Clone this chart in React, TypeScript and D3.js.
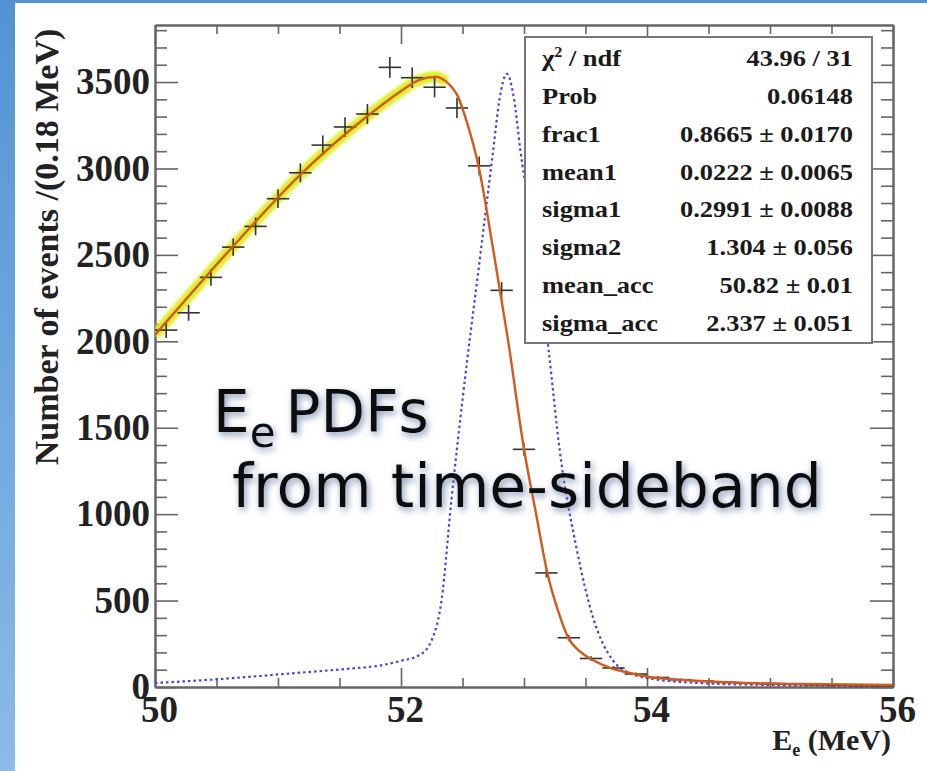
import React, { useEffect, useRef } from 'react';
import * as d3 from 'd3';

// histogram: 33 bins over 50-56 MeV, centres and counts
const binCenters: number[] = [
  50.091, 50.273, 50.455, 50.636, 50.818, 51.0, 51.182, 51.364, 51.545, 51.727, 51.909,
  52.091, 52.273, 52.455, 52.636, 52.818, 53.0, 53.182, 53.364, 53.545, 53.727, 53.909,
  54.091, 54.273, 54.455, 54.636, 54.818, 55.0, 55.182, 55.364, 55.545, 55.727, 55.909,
];
const counts: number[] = [
  2065, 2165, 2370, 2545, 2665, 2825, 2975, 3135, 3240, 3315, 3585,
  3525, 3470, 3350, 3015, 2295, 1375, 660, 285, 165, 110, 75,
  55, 42, 34, 27, 22, 18, 15, 12, 10, 8, 7,
];
const binHalf = 0.0909;

// fitted total pdf (orange line)
const fitE: number[] = [
  50.0, 50.63, 51.18, 51.72, 51.99, 52.15, 52.28, 52.37, 52.46, 52.54, 52.63,
  52.75, 52.87, 53.0, 53.1, 53.19, 53.28, 53.36, 53.46, 53.56, 53.7, 53.86,
  54.02, 54.43, 55.24, 56.0,
];
const fitN: number[] = [
  2037, 2546, 2963, 3299, 3443, 3513, 3530, 3501, 3420, 3258, 3015,
  2529, 2008, 1377, 995, 660, 434, 284, 203, 156, 110, 81,
  58, 35, 17, 12,
];

// signal pdf (blue dotted)
const sigE: number[] = [
  50.0, 50.53, 51.04, 51.54, 51.85, 51.99, 52.15, 52.25, 52.33, 52.41, 52.5,
  52.65, 52.75, 52.8, 52.86, 52.92, 52.97, 53.1, 53.2, 53.29, 53.43, 53.56,
  53.72, 53.86, 54.1, 54.43, 55.0, 56.0,
];
const sigN: number[] = [
  23, 46, 75, 104, 127, 150, 185, 272, 503, 1082, 1661,
  2529, 3108, 3397, 3547, 3397, 3108, 2529, 1950, 1371, 793, 405,
  156, 81, 41, 23, 12, 6,
];

const xMajor: number[] = [50, 52, 54, 56];
const xMinor: number[] = [50.5, 51, 51.5, 52.5, 53, 53.5, 54.5, 55, 55.5];
const yMajor: number[] = [0, 500, 1000, 1500, 2000, 2500, 3000, 3500];
const yMinor: number[] = [
  100, 200, 300, 400, 600, 700, 800, 900, 1100, 1200, 1300, 1400, 1600, 1700, 1800, 1900,
  2100, 2200, 2300, 2400, 2600, 2700, 2800, 2900, 3100, 3200, 3300, 3400, 3600, 3700, 3800,
];

const statLabels: string[] = ['ndf', 'Prob', 'frac1', 'mean1', 'sigma1', 'sigma2', 'mean_acc', 'sigma_acc'];
const statValues: string[] = [
  '43.96 / 31', '0.06148', '0.8665 ± 0.0170', '0.0222 ± 0.0065',
  '0.2991 ± 0.0088', '1.304 ± 0.056', '50.82 ± 0.01', '2.337 ± 0.051',
];

const App = () => {
  const ref = useRef<SVGSVGElement | null>(null);

  useEffect(() => {
    drawChart();
    return () => {
      if (ref.current) d3.select(ref.current).selectAll('*').remove();
    };
  }, []);

  const drawChart = () => {
    const W = 927;
    const H = 771;
    const frame = { left: 155, right: 893, top: 25, bottom: 687 };
    const serif = '"Liberation Serif", "Times New Roman", serif';

    const svg = d3.select(ref.current);

    const defs = svg.append('defs');
    const grad = defs.append('linearGradient').attr('id', 'bg').attr('x1', 0).attr('y1', 0).attr('x2', 0).attr('y2', 1);
    grad.append('stop').attr('offset', '0%').attr('stop-color', '#5393d3');
    grad.append('stop').attr('offset', '100%').attr('stop-color', '#8bbbe8');

    defs.append('clipPath').attr('id', 'plotclip')
      .append('rect')
      .attr('x', frame.left).attr('y', frame.top)
      .attr('width', frame.right - frame.left).attr('height', frame.bottom - frame.top);

    // soft glow behind the big overlay text
    const glow = defs.append('filter').attr('id', 'glow').attr('x', '-10%').attr('y', '-30%').attr('width', '120%').attr('height', '160%');
    glow.append('feGaussianBlur').attr('in', 'SourceAlpha').attr('stdDeviation', 3.5).attr('result', 'blur');
    glow.append('feOffset').attr('in', 'blur').attr('dx', 2).attr('dy', 3).attr('result', 'off');
    glow.append('feFlood').attr('flood-color', '#6f86a6').attr('flood-opacity', 0.9);
    glow.append('feComposite').attr('in2', 'off').attr('operator', 'in').attr('result', 'shadow');
    const merge = glow.append('feMerge');
    merge.append('feMergeNode').attr('in', 'shadow');
    merge.append('feMergeNode').attr('in', 'SourceGraphic');

    const soft = defs.append('filter').attr('id', 'soft');
    soft.append('feGaussianBlur').attr('stdDeviation', 1.4);

    // slide background
    svg.append('rect').attr('width', W).attr('height', H).attr('fill', 'url(#bg)');
    svg.append('rect').attr('x', 15).attr('y', 3).attr('width', W - 15).attr('height', H - 3).attr('fill', '#ffffff');

    const x = d3.scaleLinear().domain([50, 56]).range([frame.left, frame.right]);
    const y = d3.scaleLinear().domain([0, 3830]).range([frame.bottom, frame.top]);

    // axes
    const axisColor = '#666';
    const styleAxis = (g: d3.Selection<SVGGElement, unknown, null, undefined>) => {
      g.selectAll('.domain').attr('stroke', axisColor).attr('stroke-width', 2);
      g.selectAll('.tick line').attr('stroke', axisColor).attr('stroke-width', 1.6);
      g.selectAll('.tick text')
        .attr('fill', '#222')
        .attr('font-family', serif)
        .attr('font-weight', 'bold')
        .attr('font-size', 37);
    };

    const bottomMinor = svg.append('g').attr('transform', `translate(0,${frame.bottom})`)
      .call(d3.axisBottom(x).tickValues(xMinor).tickSize(-9).tickSizeOuter(0).tickFormat(() => ''));
    styleAxis(bottomMinor);
    const bottom = svg.append('g').attr('transform', `translate(0,${frame.bottom})`)
      .call(d3.axisBottom(x).tickValues(xMajor).tickSize(-19).tickSizeOuter(0).tickPadding(9).tickFormat(d3.format('d')));
    styleAxis(bottom);
    bottom.selectAll('.tick text').attr('dx', 4);

    const topMinor = svg.append('g').attr('transform', `translate(0,${frame.top})`)
      .call(d3.axisTop(x).tickValues(xMinor).tickSize(-9).tickSizeOuter(0).tickFormat(() => ''));
    styleAxis(topMinor);
    const topMajor = svg.append('g').attr('transform', `translate(0,${frame.top})`)
      .call(d3.axisTop(x).tickValues(xMajor).tickSize(-19).tickSizeOuter(0).tickFormat(() => ''));
    styleAxis(topMajor);

    const leftMinor = svg.append('g').attr('transform', `translate(${frame.left},0)`)
      .call(d3.axisLeft(y).tickValues(yMinor).tickSize(-12).tickSizeOuter(0).tickFormat(() => ''));
    styleAxis(leftMinor);
    const left = svg.append('g').attr('transform', `translate(${frame.left},0)`)
      .call(d3.axisLeft(y).tickValues(yMajor).tickSize(-23).tickSizeOuter(0).tickPadding(5).tickFormat(d3.format('d')));
    styleAxis(left);

    const rightMinor = svg.append('g').attr('transform', `translate(${frame.right},0)`)
      .call(d3.axisRight(y).tickValues(yMinor).tickSize(-12).tickSizeOuter(0).tickFormat(() => ''));
    styleAxis(rightMinor);
    const rightMajor = svg.append('g').attr('transform', `translate(${frame.right},0)`)
      .call(d3.axisRight(y).tickValues(yMajor).tickSize(-23).tickSizeOuter(0).tickFormat(() => ''));
    styleAxis(rightMajor);

    // axis titles
    svg.append('text')
      .attr('transform', `translate(58,247) rotate(-90)`)
      .attr('text-anchor', 'middle')
      .attr('font-family', serif).attr('font-weight', 'bold').attr('font-size', 34)
      .attr('fill', '#222')
      .text('Number of events /(0.18 MeV)');

    const xt = svg.append('text')
      .attr('x', 891).attr('y', 750)
      .attr('text-anchor', 'end')
      .attr('font-family', serif).attr('font-weight', 'bold').attr('font-size', 30)
      .attr('fill', '#222');
    xt.append('tspan').text('E');
    xt.append('tspan').attr('font-size', 18).attr('dy', 6).text('e');
    xt.append('tspan').attr('dy', -6).text(' (MeV)');

    const plot = svg.append('g').attr('clip-path', 'url(#plotclip)');

    const fitPts: [number, number][] = fitE.map((e, i) => [e, fitN[i]]);
    const sigPts: [number, number][] = sigE.map((e, i) => [e, sigN[i]]);
    const line = d3.line<[number, number]>()
      .x(d => x(d[0]))
      .y(d => y(d[1]))
      .curve(d3.curveMonotoneX);

    // error band on the rising part of the fit
    plot.append('path')
      .attr('d', line(fitPts.filter(d => d[0] <= 52.42)))
      .attr('fill', 'none')
      .attr('stroke', '#dcec22')
      .attr('stroke-width', 11)
      .attr('stroke-opacity', 0.95)
      .attr('filter', 'url(#soft)');

    // signal pdf
    plot.append('path')
      .attr('d', line(sigPts))
      .attr('fill', 'none')
      .attr('stroke', '#4343e0')
      .attr('stroke-width', 2.2)
      .attr('stroke-dasharray', '2.5,3');

    // data points with error bars
    const pts = plot.selectAll('.pt')
      .data(binCenters.map((c, i) => ({ c, n: counts[i] })))
      .enter().append('g')
      .attr('class', 'pt');
    pts.append('line')
      .attr('x1', d => x(d.c - binHalf)).attr('x2', d => x(d.c + binHalf))
      .attr('y1', d => y(d.n)).attr('y2', d => y(d.n))
      .attr('stroke', '#333').attr('stroke-width', 1.6);
    pts.append('line')
      .attr('x1', d => x(d.c)).attr('x2', d => x(d.c))
      .attr('y1', d => y(d.n - Math.sqrt(d.n))).attr('y2', d => y(d.n + Math.sqrt(d.n)))
      .attr('stroke', '#333').attr('stroke-width', 1.6);

    // total fit
    plot.append('path')
      .attr('d', line(fitPts))
      .attr('fill', 'none')
      .attr('stroke', '#d25a1c')
      .attr('stroke-width', 2.4);

    // stats box
    const box = { x: 525, y: 37, w: 347, h: 306 };
    svg.append('rect')
      .attr('x', box.x).attr('y', box.y).attr('width', box.w).attr('height', box.h)
      .attr('fill', '#fff').attr('stroke', '#777').attr('stroke-width', 2);

    const rowY = d3.scaleLinear().domain([0, statLabels.length - 1]).range([66, 331]);
    statLabels.forEach((lab, i) => {
      const t = svg.append('text')
        .attr('transform', `translate(542,${rowY(i)}) scale(1.15,1)`)
        .attr('font-family', serif).attr('font-weight', 'bold').attr('font-size', 23)
        .attr('fill', '#1a1a1a');
      if (i === 0) {
        t.append('tspan').text('χ');
        t.append('tspan').attr('font-size', 14).attr('dy', -9).text('2');
        t.append('tspan').attr('dy', 9).text(' / ndf');
      } else {
        t.text(lab);
      }
      svg.append('text')
        .attr('transform', `translate(853,${rowY(i)}) scale(1.15,1)`)
        .attr('text-anchor', 'end')
        .attr('font-family', serif).attr('font-weight', 'bold').attr('font-size', 23)
        .attr('fill', '#1a1a1a')
        .text(statValues[i]);
    });

    // overlay caption
    const cap = svg.append('g').attr('filter', 'url(#glow)')
      .attr('font-family', '"DejaVu Sans", Verdana, sans-serif')
      .attr('fill', '#111');
    const l1 = cap.append('text').attr('x', 213).attr('y', 432).attr('font-size', 58);
    l1.append('tspan').text('E');
    l1.append('tspan').attr('font-size', 42).attr('dy', 15).text('e');
    l1.append('tspan').attr('dy', -15).attr('dx', 10).text('PDFs');
    cap.append('text').attr('x', 232).attr('y', 507).attr('font-size', 60)
      .text('from time-sideband');
  };

  return (
    <svg ref={ref} width={927} height={771} style={{ position: 'absolute', left: 0, top: 0 }} />
  );
};

export default App;
